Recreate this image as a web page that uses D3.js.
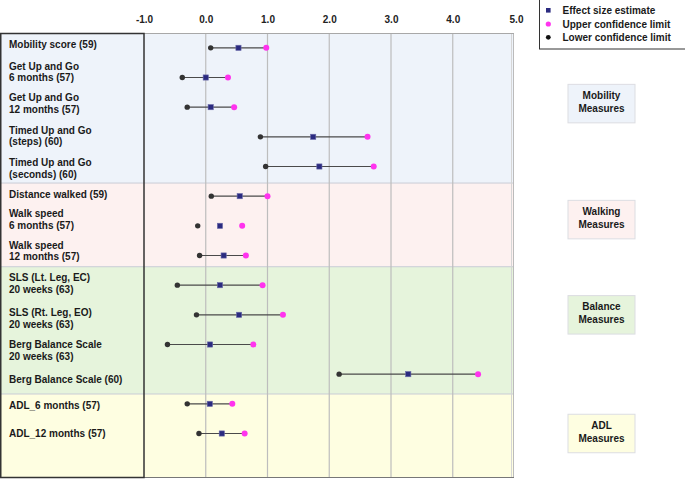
<!DOCTYPE html>
<html>
<head>
<meta charset="utf-8">
<script src="https://cdn.jsdelivr.net/npm/d3@7"></script>
<style>
  body { margin: 0; background: #fff; }
  svg { display: block; font-family: "Liberation Sans", Arial, sans-serif; font-weight: bold; }
</style>
</head>
<body>
<svg id="chart" width="685" height="479"></svg>
<script>
// ---------- data ----------
const measureLabels = [
  ["Mobility score (59)"],
  ["Get Up and Go", "6 months (57)"],
  ["Get Up and Go", "12 months (57)"],
  ["Timed Up and Go", "(steps) (60)"],
  ["Timed Up and Go", "(seconds) (60)"],
  ["Distance walked (59)"],
  ["Walk speed", "6 months (57)"],
  ["Walk speed", "12 months (57)"],
  ["SLS (Lt. Leg, EC)", "20 weeks (63)"],
  ["SLS (Rt. Leg, EO)", "20 weeks (63)"],
  ["Berg Balance Scale", "20 weeks (63)"],
  ["Berg Balance Scale (60)"],
  ["ADL_6 months (57)"],
  ["ADL_12 months (57)"]
];
const effectSize = [0.53, 0.00, 0.08, 1.74, 1.84, 0.55, 0.23, 0.29, 0.23, 0.54, 0.07, 3.28, 0.065, 0.26];
const upperLimit = [0.98, 0.36, 0.46, 2.62, 2.72, 1.00, 0.59, 0.65, 0.92, 1.25, 0.77, 4.41, 0.43, 0.63];
const lowerLimit = [0.08, -0.38, -0.30, 0.885, 0.97, 0.09, -0.13, -0.10, -0.46, -0.15, -0.62, 2.16, -0.30, -0.11];
const ciLineShown = [true, true, true, true, true, true, false, true, true, true, true, true, true, true];
const sectionNames = [["Mobility", "Measures"], ["Walking", "Measures"], ["Balance", "Measures"], ["ADL", "Measures"]];
const sectionFirstRow = [0, 5, 8, 12];
const sectionLastRow = [4, 7, 11, 14];
const tickValues = [-1, 0, 1, 2, 3, 4, 5];
const tickLabels = ["-1.0", "0.0", "1.0", "2.0", "3.0", "4.0", "5.0"];
const legendLabels = ["Effect size estimate", "Upper confidence limit", "Lower confidence limit"];

// ---------- layout / style ----------
const W = 685, H = 479;
const plotLeft = 144, plotRight = 513, plotTop = 33, plotBottom = 478;
const sectionFill = ["#eef3fa", "#fdf1f0", "#e6f4dc", "#fefee1"];
const sectionEdgeShift = [0, 1.7, -3.6, 5];
const sectionBoxRow = [1.88, 5.79, 9.0, 13.0];
const labelShift = [-3.6, -11.3, -9.3, -6.7, -4, -1.7, -12, -10.3, -7.5, -2, 0.3, 5, 2, -0.4];
const colEst = "#2b2b80", colUpper = "#ff33ee", colLower = "#333333";

const svg = d3.select("#chart");

const x = d3.scaleLinear().domain([-1, 5]).range([plotLeft, plotRight + 1.5]);
const y = d3.scaleBand().domain(d3.range(15)).range([plotTop, plotBottom]).paddingInner(0).paddingOuter(0);
const slot = y.bandwidth();
const rowY = r => plotTop + (r + 0.5) * slot;

// section backgrounds (across label panel and plot)
const secTop = sectionFirstRow.map((r, i) => i === 0 ? plotTop : y(r) + sectionEdgeShift[i]);
const secBottom = sectionLastRow.map((r, i) => i === sectionLastRow.length - 1 ? plotBottom : y(r) + slot + sectionEdgeShift[i + 1]);

svg.append("g").selectAll("rect")
  .data(sectionNames)
  .join("rect")
  .attr("x", 0)
  .attr("y", (d, i) => secTop[i])
  .attr("width", plotRight)
  .attr("height", (d, i) => secBottom[i] - secTop[i])
  .attr("fill", (d, i) => sectionFill[i]);

// section separators
svg.append("g").selectAll("line")
  .data(sectionNames.slice(1))
  .join("line")
  .attr("x1", 0).attr("x2", plotRight)
  .attr("y1", (d, i) => secTop[i + 1]).attr("y2", (d, i) => secTop[i + 1])
  .attr("stroke", "#c9ccd6").attr("stroke-width", 1);

// gridlines
svg.append("g").selectAll("line")
  .data(tickValues.filter(v => v > -1 && v < 5))
  .join("line")
  .attr("x1", d => x(d)).attr("x2", d => x(d))
  .attr("y1", plotTop).attr("y2", plotBottom)
  .attr("stroke", "#bdbdbd").attr("stroke-width", 1.2);

// plot right border (double light line)
svg.append("line").attr("x1", plotRight - 1.5).attr("x2", plotRight - 1.5)
  .attr("y1", plotTop).attr("y2", plotBottom).attr("stroke", "#d6d6d6").attr("stroke-width", 1);
svg.append("line").attr("x1", plotRight + 0.5).attr("x2", plotRight + 0.5)
  .attr("y1", plotTop).attr("y2", plotBottom).attr("stroke", "#bbbbbb").attr("stroke-width", 1);
// top border
svg.append("line").attr("x1", plotLeft).attr("x2", plotRight + 1)
  .attr("y1", plotTop + 0.5).attr("y2", plotTop + 0.5).attr("stroke", "#a8a8a8").attr("stroke-width", 1);
// bottom border
svg.append("line").attr("x1", plotLeft).attr("x2", plotRight + 1)
  .attr("y1", plotBottom - 0.5).attr("y2", plotBottom - 0.5).attr("stroke", "#777").attr("stroke-width", 1);

// left label panel border
svg.append("rect")
  .attr("x", 0.75).attr("y", plotTop + 0.5)
  .attr("width", plotLeft - 0.75).attr("height", plotBottom - plotTop - 1)
  .attr("fill", "none").attr("stroke", "#333").attr("stroke-width", 1.5);

// top axis
const axis = d3.axisTop(x).tickValues(tickValues).tickSize(0).tickPadding(0)
  .tickFormat((d, i) => tickLabels[i]);
const axG = svg.append("g").attr("transform", `translate(0, ${plotTop - 10})`).call(axis);
axG.select(".domain").remove();
axG.selectAll("text")
  .attr("font-size", 10).attr("font-weight", "bold").attr("fill", "#222")
  .attr("font-family", "'Liberation Sans', Arial, sans-serif")
  .attr("dx", d => d === 5 ? 1.5 : 0);

// row labels
const lab = svg.append("g");
measureLabels.forEach((lines, i) => {
  const t = lab.append("text")
    .attr("x", 9)
    .attr("font-size", 10).attr("fill", "#1a1a1a");
  lines.forEach((s, k) => {
    t.append("tspan")
      .attr("x", 9)
      .attr("y", rowY(i) + labelShift[i] + k * 11.4)
      .attr("dy", "0.36em")
      .text(s);
  });
});

// CI lines
svg.append("g").selectAll("line")
  .data(d3.range(effectSize.length).filter(i => ciLineShown[i]))
  .join("line")
  .attr("x1", i => x(lowerLimit[i])).attr("x2", i => x(upperLimit[i]))
  .attr("y1", i => rowY(i)).attr("y2", i => rowY(i))
  .attr("stroke", "#4a4a4a").attr("stroke-width", 1.1);

// lower limits
svg.append("g").selectAll("circle")
  .data(lowerLimit)
  .join("circle")
  .attr("cx", d => x(d)).attr("cy", (d, i) => rowY(i))
  .attr("r", 2.7).attr("fill", colLower);

// upper limits
svg.append("g").selectAll("circle")
  .data(upperLimit)
  .join("circle")
  .attr("cx", d => x(d)).attr("cy", (d, i) => rowY(i))
  .attr("r", 3).attr("fill", colUpper);

// estimates
svg.append("g").selectAll("rect")
  .data(effectSize)
  .join("rect")
  .attr("x", d => x(d) - 2.6).attr("y", (d, i) => rowY(i) - 2.6)
  .attr("width", 5.2).attr("height", 5.2)
  .attr("fill", colEst).attr("stroke", "#6a6aa8").attr("stroke-width", 0.6);

// section label boxes
const boxW = 67, boxH = 38.5, boxCx = 601.5;
const sb = svg.append("g");
sectionNames.forEach((lines, i) => {
  const cy = rowY(sectionBoxRow[i]);
  sb.append("rect")
    .attr("x", boxCx - boxW / 2).attr("y", cy - boxH / 2)
    .attr("width", boxW).attr("height", boxH)
    .attr("fill", sectionFill[i]).attr("stroke", "#dcdde2").attr("stroke-width", 1);
  lines.forEach((s, k) => {
    sb.append("text")
      .attr("x", boxCx).attr("y", cy - 8.6 + k * 13.4)
      .attr("dy", "0.36em")
      .attr("text-anchor", "middle")
      .attr("font-size", 10).attr("fill", "#1a1a1a")
      .text(s);
  });
});

// legend
const lg = svg.append("g");
lg.append("rect").attr("x", 539.5).attr("y", -0.5).attr("width", 146).attr("height", 49.5)
  .attr("fill", "#fff").attr("stroke", "#333").attr("stroke-width", 1);
const legY = [10.3, 24, 37.3];
lg.append("rect").attr("x", 548.3 - 2.3).attr("y", legY[0] - 2.3).attr("width", 4.6).attr("height", 4.6).attr("fill", colEst);
lg.append("circle").attr("cx", 548.3).attr("cy", legY[1]).attr("r", 2.6).attr("fill", colUpper);
lg.append("circle").attr("cx", 548.3).attr("cy", legY[2]).attr("r", 2.4).attr("fill", "#111");
lg.selectAll("text.lt")
  .data(legendLabels)
  .join("text")
  .attr("class", "lt")
  .attr("x", 562.5).attr("y", (d, i) => legY[i])
  .attr("dy", "0.36em")
  .attr("font-size", 10).attr("fill", "#1a1a1a")
  .text(d => d);
</script>
</body>
</html>
